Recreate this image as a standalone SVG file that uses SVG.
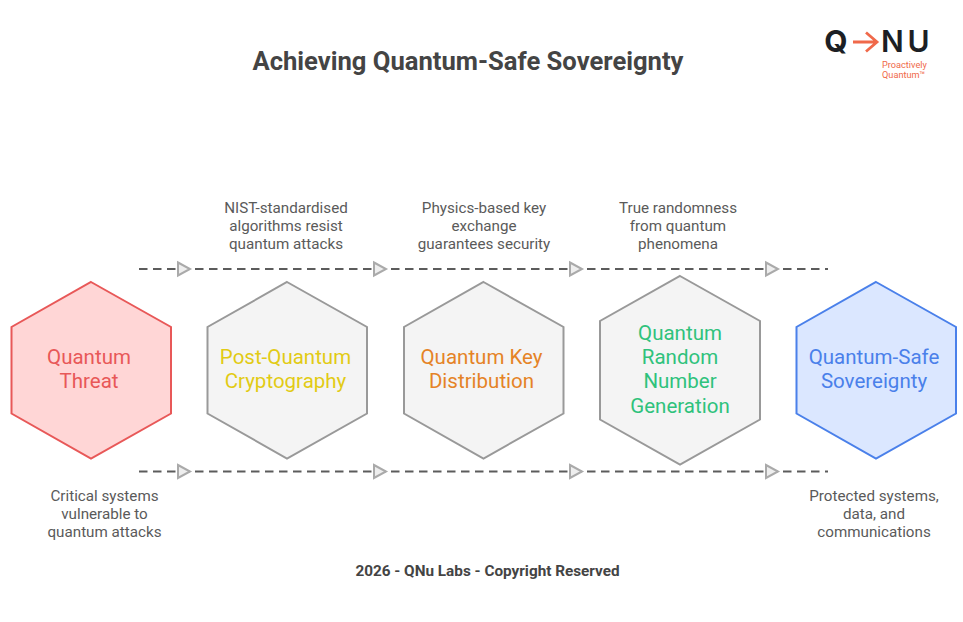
<svg xmlns="http://www.w3.org/2000/svg" width="963" height="622" viewBox="0 0 963 622">
<style>
text{font-family:Roboto,"Liberation Sans",sans-serif;text-anchor:middle}
.hex{stroke-width:2;stroke-linejoin:miter}
.grey{fill:#f4f4f4;stroke:#999}
.lbl{font-size:20.500px}
.cap{font-size:15.200px;fill:#5a5a5a}
.dash{fill:none;stroke:#5c5c5c;stroke-width:2;stroke-dasharray:8.500 5.500}
.head{fill:#eee;stroke:#aaa;stroke-width:2}
.lg{font-family:Inter,Roboto,sans-serif;font-size:30px;fill:#1c1f24}
.tag{font-size:9.200px;fill:#f0694a;text-anchor:start}
</style>
<defs>
<polygon id="ah" class="head" points="-6,-6.500 6,0 -6,6.500"/>
</defs>
<rect width="963" height="622" fill="#fff"/>
<text id="title" x="468" y="70" font-size="25.600" font-weight="700" fill="#444">Achieving Quantum-Safe Sovereignty</text>
<g id="logo">
<text class="lg" x="836" y="52" font-weight="700">Q</text>
<path d="M853 42H876M866 32.500L877 42L866 51.500" fill="none" stroke="#f0694a" stroke-width="2.800"/>
<text class="lg" x="892.500" y="52" font-weight="600">N</text>
<text class="lg" x="918.500" y="52" font-weight="600">U</text>
<text class="tag" x="882" y="67.500">Proactively</text>
<text class="tag" x="882" y="78">Quantum™</text>
</g>
<g id="connectors">
<path class="dash" d="M139 269H828"/>
<path class="dash" d="M139 471.500H828"/>
<use href="#ah" x="184" y="269"/><use href="#ah" x="380" y="269"/><use href="#ah" x="576" y="269"/><use href="#ah" x="772" y="269"/>
<use href="#ah" x="184" y="471.500"/><use href="#ah" x="380" y="471.500"/><use href="#ah" x="576" y="471.500"/><use href="#ah" x="772" y="471.500"/>
</g>
<g id="node-threat">
<polygon class="hex" fill="#ffd6d6" stroke="#e85858" points="91,282 171,327 171,413.500 91,458.500 11.500,413.500 11.500,327"/>
<text class="lbl" fill="#e85858" x="89" y="364">Quantum</text>
<text class="lbl" fill="#e85858" x="89" y="388">Threat</text>
<text class="cap" x="104.500" y="501">Critical systems</text>
<text class="cap" x="104.500" y="519">vulnerable to</text>
<text class="cap" x="104.500" y="537">quantum attacks</text>
</g>
<g id="node-pqc">
<polygon class="hex grey" points="287,282 367,327 367,413.500 287,458.500 207.500,413.500 207.500,327"/>
<text class="lbl" fill="#e2cb14" x="285.500" y="364">Post-Quantum</text>
<text class="lbl" fill="#e2cb14" x="285.500" y="388">Cryptography</text>
<text class="cap" x="286" y="213">NIST-standardised</text>
<text class="cap" x="286" y="231">algorithms resist</text>
<text class="cap" x="286" y="249">quantum attacks</text>
</g>
<g id="node-qkd">
<polygon class="hex grey" points="483.500,282 563.500,327 563.500,413.500 483.500,458.500 404,413.500 404,327"/>
<text class="lbl" fill="#e58326" x="481.500" y="364">Quantum Key</text>
<text class="lbl" fill="#e58326" x="481.500" y="388">Distribution</text>
<text class="cap" x="484" y="213">Physics-based key</text>
<text class="cap" x="484" y="231">exchange</text>
<text class="cap" x="484" y="249">guarantees security</text>
</g>
<g id="node-qrng">
<polygon class="hex grey" points="680,276 760,321 760,419.500 680,464.500 600,419.500 600,321"/>
<text class="lbl" fill="#2fc27c" x="680" y="339.500">Quantum</text>
<text class="lbl" fill="#2fc27c" x="680" y="364">Random</text>
<text class="lbl" fill="#2fc27c" x="680" y="388">Number</text>
<text class="lbl" fill="#2fc27c" x="680" y="412.500">Generation</text>
<text class="cap" x="678" y="213">True randomness</text>
<text class="cap" x="678" y="231">from quantum</text>
<text class="cap" x="678" y="249">phenomena</text>
</g>
<g id="node-safe">
<polygon class="hex" fill="#dbe7ff" stroke="#4a80ea" points="876,282 956,327 956,413.500 876,458.500 796.500,413.500 796.500,327"/>
<text class="lbl" fill="#4a80ea" x="874" y="364">Quantum-Safe</text>
<text class="lbl" fill="#4a80ea" x="874" y="388">Sovereignty</text>
<text class="cap" x="874" y="501">Protected systems,</text>
<text class="cap" x="874" y="519">data, and</text>
<text class="cap" x="874" y="537">communications</text>
</g>
<text id="footer" x="487.500" y="576" font-size="15.300" font-weight="700" fill="#444">2026 - QNu Labs - Copyright Reserved</text>
</svg>
